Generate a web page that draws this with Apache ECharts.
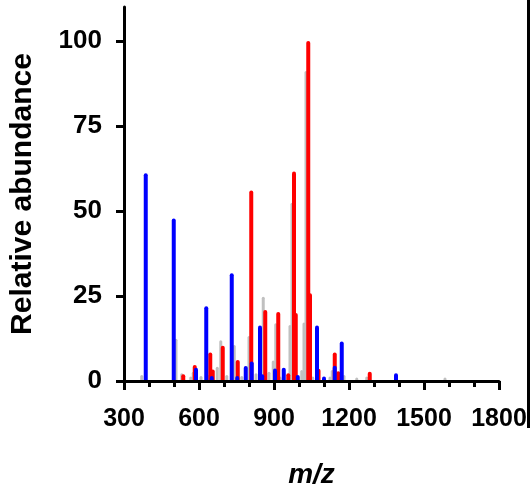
<!DOCTYPE html>
<html>
<head>
<meta charset="utf-8">
<script src="https://cdn.jsdelivr.net/npm/echarts@6/dist/echarts.min.js"></script>
<style>
  html, body { margin: 0; padding: 0; background: #fff; }
  #chart { width: 530px; height: 490px; }
</style>
</head>
<body>
<div id="chart"></div>
<script>
// peaks (m/z, relative abundance)
var grayMz = [371, 508, 531, 567, 577, 608, 637, 673, 687, 711, 741, 771, 800, 828, 857, 880, 897, 907, 924, 964, 972, 1011, 1020, 1028, 1055, 1124, 1133, 1180, 1231, 1271, 1584]
var grayInt = [1.8, 12.4, 2.3, 1.3, 2.7, 1.5, 1.8, 4.2, 12.0, 1.8, 10.6, 1.5, 13.2, 2.3, 24.8, 2.7, 6.0, 17.0, 1.3, 16.5, 52.4, 3.2, 17.2, 91.2, 1.3, 1.3, 3.2, 1.8, 1.0, 1.3, 1.0]

var redMz = [537, 583, 645, 655, 695, 755, 809, 865, 917, 957, 980, 987, 1037, 1044, 1078, 1143, 1157, 1283]
var redInt = [2.0, 4.7, 8.4, 3.4, 10.4, 6.2, 56.0, 20.9, 20.3, 2.3, 61.6, 20.0, 100, 25.8, 3.6, 8.4, 2.9, 2.7]

var blueMz = [387, 499, 588, 629, 651, 731, 753, 787, 811, 844, 853, 904, 939, 995, 1072, 1100, 1143, 1171, 1388]
var blueInt = [61.1, 47.8, 3.9, 22.0, 1.5, 31.7, 1.5, 4.4, 5.7, 16.3, 2.0, 3.7, 3.9, 1.8, 16.3, 1.3, 4.5, 11.6, 2.3]

var yTicks = [0, 25, 50, 75, 100]

var font = 'Liberation Sans, Arial, sans-serif'

function pairs(xs, ys) {
  return xs.map(function (x, i) { return [x, ys[i]] })
}

// thin stick with a rounded top
function stick(w) {
  return function (params, api) {
    var top = api.coord([api.value(0), api.value(1)])
    var base = api.coord([api.value(0), 0])
    return {
      type: 'rect',
      shape: { x: top[0] - w / 2, y: top[1], width: w, height: base[1] - top[1] - 1, r: [w / 2, w / 2, 0, 0] },
      style: api.style()
    }
  }
}

var chart = echarts.init(document.getElementById('chart'))
chart.setOption({
  animation: false,
  backgroundColor: '#fff',
  grid: { left: 124, right: 31, top: 7, bottom: 109, outerBoundsMode: 'none' },
  xAxis: {
    type: 'value',
    min: 300,
    max: 1800,
    interval: 300,
    name: 'm/z',
    nameLocation: 'middle',
    nameGap: 80,
    nameTextStyle: { fontFamily: font, fontSize: 28, fontWeight: 'bold', fontStyle: 'italic', color: '#000' },
    axisLine: { lineStyle: { color: '#000', width: 3 } },
    axisTick: { length: 9, lineStyle: { color: '#000', width: 3 } },
    minorTick: { show: true, splitNumber: 3, length: 6, lineStyle: { color: '#000', width: 3 } },
    splitLine: { show: false },
    axisLabel: {
      margin: 26, fontFamily: font, fontSize: 25, fontWeight: 'bold', color: '#000',
      showMinLabel: true, showMaxLabel: true,
      formatter: function (v) { return String(v) }
    }
  },
  yAxis: {
    type: 'value',
    min: 0,
    max: 110,
    interval: 25,
    name: 'Relative abundance',
    nameLocation: 'middle',
    nameRotate: 90,
    nameGap: 86,
    nameTextStyle: { fontFamily: font, fontSize: 30, fontWeight: 'bold', color: '#000' },
    axisLine: { show: true, lineStyle: { color: '#000', width: 3 } },
    axisTick: { show: true, length: 8, customValues: yTicks, lineStyle: { color: '#000', width: 3 } },
    splitLine: { show: false },
    axisLabel: { margin: 22, customValues: yTicks, fontFamily: font, fontSize: 26, fontWeight: 'bold', color: '#000' }
  },
  graphic: [
    { type: 'rect', shape: { x: 527, y: 0, width: 3, height: 428 }, style: { fill: '#000' } }
  ],
  series: [
    { name: 'gray', type: 'custom', renderItem: stick(3), itemStyle: { color: '#c0c0c0' }, data: pairs(grayMz, grayInt) },
    { name: 'red', type: 'custom', renderItem: stick(4), itemStyle: { color: '#ff0000' }, data: pairs(redMz, redInt) },
    { name: 'blue', type: 'custom', renderItem: stick(4), itemStyle: { color: '#0000ff' }, data: pairs(blueMz, blueInt) }
  ]
})
</script>
</body>
</html>
